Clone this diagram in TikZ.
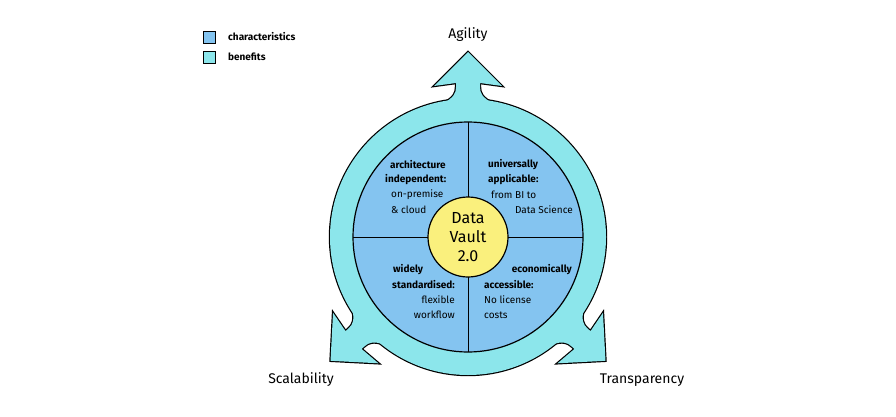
\documentclass[tikz,border=0pt]{standalone}
\usepackage{fontspec}
\setmainfont{Fira Sans}
\begin{document}
\begin{tikzpicture}[x=1pt,y=1pt,
  txt/.style={inner sep=0pt,font=\fontsize{10}{12}\selectfont},
  hd/.style={txt,font=\fontsize{10}{12}\selectfont\bfseries},
  lbl/.style={inner sep=0pt,font=\fontsize{14}{16}\selectfont}]
\definecolor{blu}{RGB}{132,196,240}
\definecolor{cya}{RGB}{140,230,235}
\definecolor{yel}{RGB}{250,240,125}
\useasboundingbox (0,0) rectangle (896,416);
\def\arr{(-24,118) -- (-24,134) .. controls (-14,140) and (-12,144) .. (-12,150) -- (-12,154) -- (-34,151) -- (0,185) -- (34,151) -- (12,154) -- (12,150) .. controls (12,144) and (14,140) .. (24,134) -- (24,118) -- cycle}
\begin{scope}[shift={(468,179)}]
  % outline pass
  \draw[line width=2.4pt] (0,0) circle (138);
  \foreach \a in {0,132,-132} \draw[line width=2.4pt,rotate=\a] \arr;
  % fill pass
  \fill[cya] (0,0) circle (138);
  \foreach \a in {0,132,-132} \fill[cya,rotate=\a] \arr;
  \draw[fill=blu,line width=1.2pt] (0,0) circle (115);
  \coordinate (t) at (0,115); \coordinate (b) at (0,-115);
  \coordinate (l) at (-115,0); \coordinate (r) at (115,0);
  \draw[line width=1pt] (t) -- (b) (l) -- (r);
  \node[circle,draw,line width=1.2pt,fill=yel,minimum size=80pt,inner sep=0pt,align=center,font=\fontsize{16}{19}\selectfont] (dv) at (0,0) {Data\\Vault\\2.0};
\end{scope}
% quadrant texts (image coords: y -> 416-y)
\node[hd,anchor=west] (a1) at (390,251) {architecture};
\node[hd,anchor=west] (a2) at (385,236) {independent:};
\node[txt,anchor=west] (a3) at (391,221) {on-premise};
\node[txt,anchor=west] (a4) at (391,206) {\&~cloud};
\node[hd,anchor=west] (b1) at (488,251) {universally};
\node[hd,anchor=west] (b2) at (488,236) {applicable:};
\node[txt,anchor=west] (b3) at (491,221) {from BI to};
\node[txt,anchor=east] (b4) at (573,206) {Data Science};
\node[hd,anchor=west] (c1) at (393,146) {widely};
\node[hd,anchor=east] (c2) at (455,131) {standardised:};
\node[txt,anchor=east] (c3) at (455,116) {flexible};
\node[txt,anchor=east] (c4) at (455,101) {workflow};
\node[hd,anchor=east] (d1) at (572,146) {economically};
\node[hd,anchor=west] (d2) at (484,131) {accessible:};
\node[txt,anchor=west] (d3) at (484,116) {No license};
\node[txt,anchor=west] (d4) at (484,101) {costs};
% labels
\node[lbl] (ag) at (468,381) {Agility};
\node[lbl] (sc) at (301,36) {Scalability};
\node[lbl] (tr) at (642,36) {Transparency};
% legend
\node[draw,fill=blu,minimum size=12pt,inner sep=0pt] (k1) at (209,379) {};
\node[draw,fill=cya,minimum size=12pt,inner sep=0pt] (k2) at (209,359) {};
\node[hd,anchor=west] (k1t) at (228,379) {characteristics};
\node[hd,anchor=west] (k2t) at (228,359) {benefits};
\end{tikzpicture}
\end{document}
